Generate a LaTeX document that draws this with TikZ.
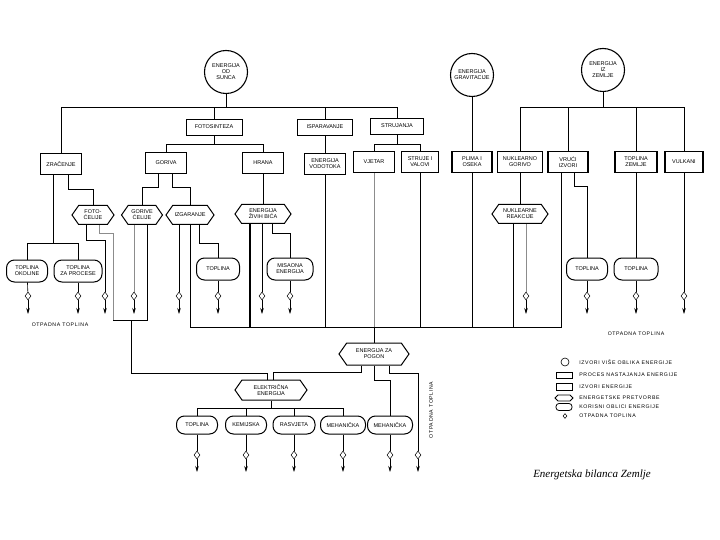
\documentclass[tikz,border=0pt]{standalone}
\usepackage{fontspec}
\setmainfont{Liberation Sans}
\newfontfamily\notefamily{Liberation Sans}[LetterSpace=12]
\newfontfamily\titlefont{Liberation Serif}
\newcommand\boxfont{\fontsize{5.5}{6.1}\selectfont}
\newcommand\notefont{\notefamily\fontsize{5.2}{6}\selectfont}
\usetikzlibrary{positioning, arrows.meta, shapes.geometric, shapes.symbols}
\tikzset{
  srccircle/.style = {draw, circle, line width=1.1pt, minimum size=43pt,
                      inner sep=0pt, align=center, font=\boxfont},
  procbox/.style   = {draw, line width=0.6pt, minimum width=#1,
                      minimum height=16pt, inner sep=1pt, align=center, font=\boxfont},
  procbox/.default = 55pt,
  srcbox/.style    = {draw, line width=1.2pt, minimum width=#1,
                      minimum height=21pt, inner sep=1pt, align=center, font=\boxfont},
  srcbox/.default  = 41pt,
  convbox/.style   = {draw, signal, signal to=west and east, signal pointer angle=110,
                      line width=1pt, minimum width=#1, minimum height=19pt,
                      inner xsep=1pt, inner ysep=1pt, align=center, font=\boxfont},
  convbox/.default = 41pt,
  usebox/.style    = {draw, rounded corners=8pt, line width=1pt, minimum width=#1,
                      minimum height=22pt, inner sep=1pt, align=center, font=\boxfont},
  usebox/.default  = 41pt,
  loss/.style      = {draw, diamond, line width=0.5pt, minimum width=6pt,
                      minimum height=8pt, inner sep=0pt, fill=white},
  faint/.style     = {line width=0.5pt, black!45},
  heavy/.style     = {line width=1.2pt},
  sinkarrow/.style = {line width=0.6pt, -{Stealth[length=6pt, width=3.5pt]}},
  note/.style      = {font=\notefont, inner sep=0pt},
}

\begin{document}
\begin{tikzpicture}[x=1pt, y=-1pt, line width=0.6pt]
  \useasboundingbox (0,0) rectangle (720,540);

  % Primary sources
  \node[srccircle] (sun)   at (226,72) {ENERGIJA\\OD\\SUNCA};
  \node[srccircle] (grav)  at (472,75) {ENERGIJA\\GRAVITACIJE};
  \node[srccircle] (earth) at (603,70) {ENERGIJA\\IZ\\ZEMLJE};

  % Processes
  \node[procbox=56pt] (fotos) at (214,127) {FOTOSINTEZA};
  \node[procbox=55pt] (ispar) at (325,127) {ISPARAVANJE};
  \node[procbox=53pt] (struj) at (397,126) {STRUJANJA};

  % Energy sources
  \node[srcbox] (zrac)    at (61,164)  {ZRAČENJE};
  \node[srcbox] (goriva)  at (166,163) {GORIVA};
  \node[srcbox] (hrana)   at (263,163) {HRANA};
  \node[srcbox] (vodotok) at (325,164) {ENERGIJA\\VODOTOKA};
  \node[srcbox] (vjetar)  at (374,162) {VJETAR};
  \node[srcbox=37pt] (strujev) at (420,162) {STRUJE I\\VALOVI};
  \node[srcbox=40pt] (plima)   at (472,162) {PLIMA I\\OSEKA};
  \node[srcbox=45pt] (nukgor)  at (520,162) {NUKLEARNO\\GORIVO};
  \node[srcbox=40pt] (vruci)   at (568,162) {VRUĆI\\IZVORI};
  \node[srcbox=42pt] (topzem)  at (636,162) {TOPLINA\\ZEMLJE};
  \node[srcbox=38pt] (vulkani) at (684,162) {VULKANI};

  % Conversions
  \node[convbox=42pt] (fotoc)   at (93,215)  {FOTO-\\ĆELIJE};
  \node[convbox=41pt] (gorivec) at (142,215) {GORIVE\\ĆELIJE};
  \node[convbox=48pt] (izgar)   at (190,215) {IZGARANJE};
  \node[convbox=56pt] (zivi)    at (263,214) {ENERGIJA\\ŽIVIH BIĆA};
  \node[convbox=56pt] (nukrea)  at (520,214) {NUKLEARNE\\REAKCIJE};
  \node[convbox=70pt, minimum height=22pt] (pogon)  at (374,354) {ENERGIJA ZA\\POGON};
  \node[convbox=72pt, minimum height=20pt] (elektr) at (271,390) {ELEKTRIČNA\\ENERGIJA};

  % Useful forms
  \node[usebox=41pt] (topok)   at (27,271)  {TOPLINA\\OKOLINE};
  \node[usebox=48pt] (topproc) at (78,271)  {TOPLINA\\ZA PROCESE};
  \node[usebox=43pt] (topizg)  at (218,269) {TOPLINA};
  \node[usebox=46pt] (misao)   at (290,269) {MISAONA\\ENERGIJA};
  \node[usebox=41pt] (topvr)   at (587,269) {TOPLINA};
  \node[usebox=44pt] (topzz)   at (636,269) {TOPLINA};
  \node[usebox=41pt, minimum height=18pt] (e1)   at (197,425) {TOPLINA};
  \node[usebox=41pt, minimum height=18pt] (kem)  at (246,425) {KEMIJSKA};
  \node[usebox=42pt, minimum height=18pt] (rasv) at (294,425) {RASVJETA};
  \node[usebox=45pt, minimum height=18pt] (meh1) at (343,425) {MEHANIČKA};
  \node[usebox=45pt, minimum height=18pt] (meh2) at (390,425) {MEHANIČKA};

  % Waste heat
  \foreach \x [count=\i] in {28,78,105,134,179,218,262,290,526,587,636,684}{
    \node[loss] (loss\i) at (\x,296) {};
    \coordinate (sink\i) at (\x,314);
    \draw[sinkarrow] (loss\i) -- (sink\i);
  }
  \foreach \x [count=\i from 13] in {197,246,294,343,390,418}{
    \node[loss] (loss\i) at (\x,455) {};
    \coordinate (sink\i) at (\x,472);
    \draw[sinkarrow] (loss\i) -- (sink\i);
  }

  % Sun branch
  \coordinate (sunbus) at (0,107);
  \draw (sun.south) -- (sun.south |- sunbus);
  \draw (zrac.north) |- (struj.north |- sunbus) -- (struj.north);
  \draw (fotos.north) -- (fotos.north |- sunbus);
  \draw (ispar.north) -- (ispar.north |- sunbus);
  \draw (fotos.south) -- ++(0,9) coordinate (fb);
  \draw (goriva.north) |- (fb) -| (hrana.north);
  \draw (struj.south) -- ++(0,10) coordinate (sb);
  \draw (vjetar.north) |- (sb) -| (strujev.north);
  \draw (ispar.south) -- (vodotok.north);

  % Gravity and Earth branches
  \draw (grav.south) -- (plima.north);
  \coordinate (earthbus) at (0,107);
  \draw (earth.south) -- (earth.south |- earthbus);
  \draw (nukgor.north) |- (vulkani.north |- earthbus) -- (vulkani.north);
  \draw (vruci.north) -- (vruci.north |- earthbus);
  \draw (topzem.north) -- (topzem.north |- earthbus);

  % Second level
  \draw ([xshift=-8pt]zrac.south) -- ++(0,68) coordinate (zb);
  \draw (topok.north) |- (zb) -| (topproc.north);
  \draw ([xshift=7pt]zrac.south) -- ++(0,14) -| (fotoc.north);
  \draw ([xshift=-8pt]goriva.south) -- ++(0,13) -| (gorivec.north);
  \draw ([xshift=6pt]goriva.south) -- ++(0,13) -| (izgar.north);
  \draw (hrana.south) -- (zivi.north);
  \draw (nukgor.south) -- (nukrea.north);
  \draw ([xshift=6pt]vruci.south) -- ++(0,13) -| (topvr.north);
  \draw (topzem.south) -- (topzz.north);
  \draw (vulkani.south) -- (loss12);

  % Useful forms to waste heat
  \foreach \a/\b in {topok/loss1, topproc/loss2, topizg/loss6, misao/loss8,
                     topvr/loss10, topzz/loss11, e1/loss13, kem/loss14,
                     rasv/loss15, meh1/loss16, meh2/loss17}
    \draw (\a) -- (\b);

  % Conversions outputs
  \coordinate (eleft)  at (113,320);
  \coordinate (ejoin)  at (131,320);
  \coordinate (eright) at (147,320);
  \draw ([xshift=-7pt]fotoc.south) -- ++(0,15) -| (loss3);
  \draw[faint] ([xshift=6pt]fotoc.south) -- ++(0,8) -| (eleft);
  \draw (eleft) -- (eright) -- (eright |- gorivec.south);
  \draw[faint] (loss4 |- gorivec.south) -- (loss4);
  \draw (ejoin) -- ++(0,53) -| ([xshift=-4pt]elektr.north);
  \draw (loss5 |- izgar.south) -- (loss5);
  \draw ([xshift=9pt]izgar.south) -- ++(0,18) -| (topizg.north);
  \draw (loss7 |- zivi.south) -- (loss7);
  \draw ([xshift=9pt]zivi.south) -- ++(0,9) -| (misao.north);
  \draw[faint] (loss9 |- nukrea.south) -- (loss9);

  % Collecting line to the drive energy
  \coordinate (bus) at (0,327);
  \draw (izgar.south) -- (izgar.south |- bus) -- ([xshift=-7pt]vruci.south |- bus)
    -- ([xshift=-7pt]vruci.south);
  \draw[heavy] ([xshift=-13pt]zivi.south) -- ([xshift=-13pt]zivi.south |- bus);
  \draw (vodotok.south) -- (vodotok.south |- bus);
  \draw (strujev.south) -- (strujev.south |- bus);
  \draw (plima.south) -- (plima.south |- bus);
  \draw ([xshift=-7pt]nukrea.south) -- ([xshift=-7pt]nukrea.south |- bus);
  \draw[faint] (vjetar.south) -- (vjetar.south |- bus);
  \draw (vjetar.south |- bus) -- (pogon.north);

  % Drive energy outputs
  \draw ([xshift=-13pt]pogon.south) -- ++(0,7) -| ([xshift=2pt]elektr.north);
  \draw (pogon.south) -- ++(0,15) -| (meh2.north);
  \draw ([xshift=15pt]pogon.south) -- ++(0,8) -| (loss18);
  \draw (elektr.south) -- ++(0,8) coordinate (elb);
  \draw (e1.north) |- (elb) -| (meh1.north);
  \draw (kem.north) -- (kem.north |- elb);
  \draw (rasv.north) -- (rasv.north |- elb);

  % Labels
  \node[note] (otpl) at (60,325) {OTPADNA TOPLINA};
  \node[note] (otpr) at (636,334) {OTPADNA TOPLINA};
  \node[note, rotate=90] (otpb) at (431,410) {OTPADNA TOPLINA};

  % Legend
  \node[draw, circle, line width=0.6pt, minimum size=8pt, inner sep=0pt] (lg1) at (565,362) {};
  \node[draw, line width=0.6pt, minimum width=16pt, minimum height=6pt, inner sep=0pt] (lg2) at (564,375) {};
  \node[draw, line width=0.9pt, minimum width=16pt, minimum height=7pt, inner sep=0pt] (lg3) at (564,387) {};
  \node[draw, signal, signal to=west and east, line width=0.8pt, minimum width=18pt,
        minimum height=6pt, inner sep=0pt] (lg4) at (564,398) {};
  \node[draw, rounded corners=3pt, line width=0.8pt, minimum width=16pt,
        minimum height=7pt, inner sep=0pt] (lg5) at (564,407) {};
  \node[loss, minimum width=4pt, minimum height=5pt] (lg6) at (565,416) {};
  \node[note, anchor=west] at (579,362) {IZVORI VIŠE OBLIKA ENERGIJE};
  \node[note, anchor=west] at (579,375) {PROCES NASTAJANJA ENERGIJE};
  \node[note, anchor=west] at (579,387) {IZVORI ENERGIJE};
  \node[note, anchor=west] at (579,398) {ENERGETSKE PRETVORBE};
  \node[note, anchor=west] at (579,407) {KORISNI OBLICI ENERGIJE};
  \node[note, anchor=west] at (579,416) {OTPADNA TOPLINA};

  % Title
  \node[font=\titlefont\itshape\fontsize{11}{13}\selectfont] (title) at (592,475)
    {Energetska bilanca Zemlje};
\end{tikzpicture}
\end{document}
